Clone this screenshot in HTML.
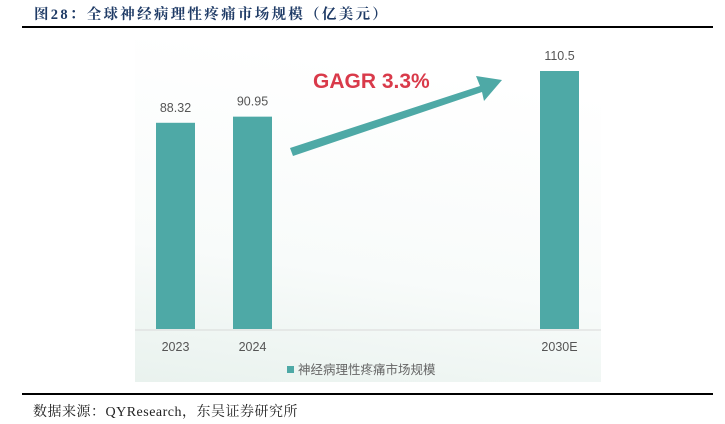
<!DOCTYPE html>
<html><head><meta charset="utf-8"><style>
body{margin:0;background:#fff;width:725px;height:424px;overflow:hidden;position:relative;font-family:"Liberation Sans","Noto Sans CJK SC",sans-serif}
.title{position:absolute;left:34px;top:3px;font-size:14.5px;font-weight:bold;color:#1f3b66;font-family:"Liberation Serif","Noto Serif CJK SC",serif;letter-spacing:2.3px}
.rule{position:absolute;left:22px;width:691px;height:2px;background:#000}
.src{position:absolute;left:33px;top:401px;font-size:14px;color:#222;font-family:"Liberation Serif","Noto Serif CJK SC",serif;letter-spacing:0.5px}
</style></head><body>
<div class="title">图28：全球神经病理性疼痛市场规模（亿美元）</div>
<div class="rule" style="top:26px"></div>
<svg width="725" height="424" style="position:absolute;left:0;top:0" id="chart">
<defs><linearGradient id="bg" x1="0.2" y1="0" x2="0" y2="1"><stop offset="0" stop-color="#ffffff"/><stop offset="0.6" stop-color="#f8fbfa"/><stop offset="1" stop-color="#e9f2ee"/></linearGradient></defs>
<rect x="135" y="40" width="466" height="342" fill="url(#bg)"/>
<line x1="135" y1="330" x2="601" y2="330" stroke="#d9d9d9"/>
<g id="bars"></g>
<polygon points="290,148 480,86 476,76 502,80 484,101 482,92 293,156" fill="#4ea9a6"/>
<text x="313" y="88" font-size="21" font-weight="bold" fill="#d93a4a">GAGR 3.3%</text>
<rect x="287" y="366" width="7" height="7" fill="#4ea9a6"/>
<text x="298" y="374" font-size="12.5" fill="#666">神经病理性疼痛市场规模</text>
</svg>
<div class="rule" style="top:393px"></div>
<div class="src">数据来源：QYResearch，东吴证券研究所</div>
<script>
const categories=["2023","2024","2030E"];
const values=[88.32,90.95,110.5];
const labels=["88.32","90.95","110.5"];
const xCenters={"2023":175.5,"2024":252.5,"2030E":559.5};
const base=329, scale=258/110.5;
function y(v){return base-v*scale;}
const g=document.getElementById('bars');const ns="http://www.w3.org/2000/svg";
categories.forEach((c,i)=>{
 const cx=xCenters[c];
 const r=document.createElementNS(ns,'rect');
 r.setAttribute('x',cx-19.5);r.setAttribute('y',y(values[i]));r.setAttribute('width',39);r.setAttribute('height',base-y(values[i]));r.setAttribute('fill','#4ea9a6');
 
 
 g.appendChild(r);
 const t=document.createElementNS(ns,'text');
 t.setAttribute('x',cx);t.setAttribute('y',y(values[i])-11);t.setAttribute('text-anchor','middle');t.setAttribute('font-size','12.5');t.setAttribute('fill','#555');t.textContent=labels[i];
 
 
 g.appendChild(t);
 const xt=document.createElementNS(ns,'text');
 xt.setAttribute('x',cx);xt.setAttribute('y',351);xt.setAttribute('text-anchor','middle');xt.setAttribute('font-size','12.5');xt.setAttribute('fill','#555');xt.textContent=c;
 
 
 g.appendChild(xt);
});
</script>
</body></html>
